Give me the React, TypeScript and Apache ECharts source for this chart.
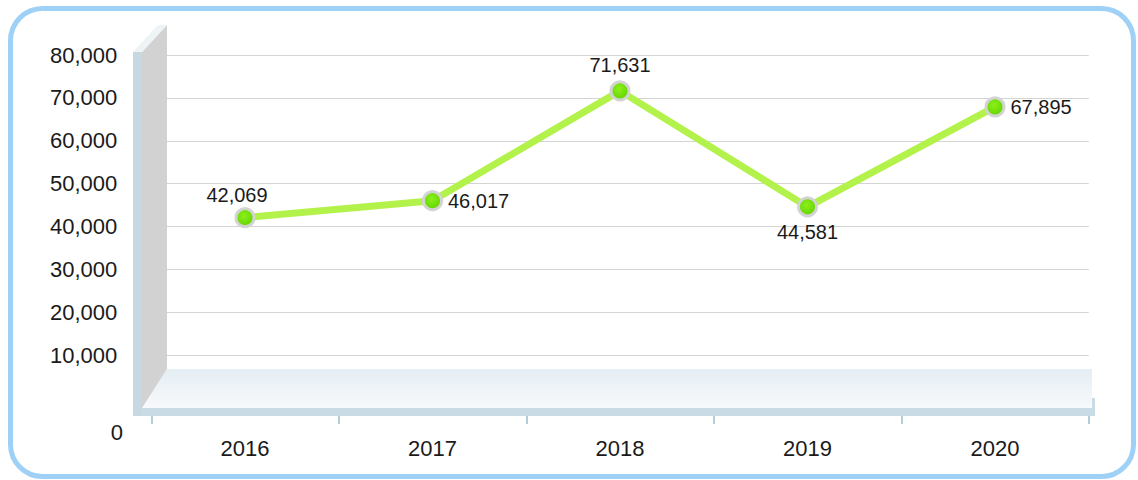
import React, { useEffect, useRef } from "react";
import * as echarts from "echarts";

const categories = ["2016", "2017", "2018", "2019", "2020"];
const values = [42069, 46017, 71631, 44581, 67895];
const yTicks = [0, 10000, 20000, 30000, 40000, 50000, 60000, 70000, 80000];
const labelSides = ["top", "right", "top", "bottom", "right"];

const FONT = "'Liberation Sans', Arial, Helvetica, sans-serif";
const fmt = (v: number) => v.toLocaleString("en-US");

export default function App() {
  const ref = useRef<HTMLDivElement>(null);
  useEffect(() => {
    document.body.style.margin = "0";
    const chart = echarts.init(ref.current!, null, { renderer: "svg" });
    const yMax = yTicks[yTicks.length - 1];
    const yStep = yTicks[1] - yTicks[0];
    const data = values.map((v, i) => ({
      value: v,
      label: {
        position: labelSides[i],
        offset: i === 0 ? [-8, 3] : [0, 0],
      },
    }));
    chart.setOption({
      animation: false,
      grid: { left: 151.25, right: 49.25, top: 55, bottom: 82, containLabel: false },
      xAxis: {
        type: "category",
        data: categories,
        boundaryGap: true,
        axisLine: { show: true, lineStyle: { color: "rgba(0,0,0,0)", width: 0 } },
        axisTick: { show: true, length: 26, lineStyle: { color: "#b4cdd9", width: 2 } },
        axisLabel: { margin: 39, fontSize: 22, color: "#1a1a1a", fontFamily: FONT },
        splitLine: { show: false },
        z: 0,
      },
      yAxis: {
        type: "value",
        min: 0,
        max: yMax,
        interval: yStep,
        axisLine: { show: false },
        axisTick: { show: false },
        axisLabel: {
          margin: 34,
          fontSize: 22,
          color: "#1a1a1a",
          fontFamily: FONT,
          formatter: (v: number) => (v === 0 ? "" : fmt(v)),
        },
        splitLine: { lineStyle: { color: "#d4d4d4", width: 1 } },
      },
      graphic: [
        {
          type: "rect",
          z: -10,
          silent: true,
          shape: { x: 10.5, y: 8.5, width: 1123, height: 468, r: 32 },
          style: { fill: "#ffffff", stroke: "#9fd0f6", lineWidth: 5 },
        },
        {
          type: "polygon",
          z: 5,
          silent: true,
          shape: { points: [[167, 369], [1092, 369], [1092, 408], [142, 408]] },
          style: {
            fill: new echarts.graphic.LinearGradient(0, 0, 0, 1, [
              { offset: 0, color: "#e5eef4" },
              { offset: 1, color: "#f7f9fb" },
            ]),
          },
        },
        {
          type: "rect",
          z: 5,
          silent: true,
          shape: { x: 142, y: 408, width: 953, height: 8 },
          style: { fill: "#c9dbe4" },
        },
        {
          type: "rect",
          z: 5,
          silent: true,
          shape: { x: 1092, y: 398, width: 3, height: 18 },
          style: { fill: "#c9dbe4" },
        },
        {
          type: "polygon",
          z: 6,
          silent: true,
          shape: { points: [[142, 52], [167, 25], [167, 369], [142, 408]] },
          style: { fill: "#d2d2d2" },
        },
        {
          type: "polygon",
          z: 6,
          silent: true,
          shape: { points: [[133, 52], [142, 52], [167, 25], [158, 25]] },
          style: { fill: "#eef3f5" },
        },
        {
          type: "rect",
          z: 6,
          silent: true,
          shape: { x: 133, y: 52, width: 9, height: 364 },
          style: { fill: "#c6d9e1" },
        },
        {
          type: "text",
          z: 6,
          silent: true,
          x: 123,
          y: 432,
          style: {
            text: fmt(yTicks[0]),
            fontSize: 22,
            fontFamily: FONT,
            fill: "#1a1a1a",
            textAlign: "right",
            textVerticalAlign: "middle",
          },
        },
      ],
      series: [
        {
          type: "line",
          z: 10,
          data,
          lineStyle: { color: "#b3f24b", width: 7 },
          symbol: "circle",
          symbolSize: 18,
          itemStyle: {
            color: new echarts.graphic.RadialGradient(0.45, 0.4, 0.6, [
              { offset: 0, color: "#8cf01a" },
              { offset: 1, color: "#62d400" },
            ]),
            borderColor: "#d3d3d3",
            borderWidth: 3,
          },
          label: {
            show: true,
            fontSize: 20,
            fontFamily: FONT,
            color: "#1a1a1a",
            distance: 5,
            formatter: (p: any) => fmt(p.value),
          },
        },
      ],
    });
    return () => chart.dispose();
  }, []);
  return <div ref={ref} style={{ width: 1138, height: 480 }} />;
}
